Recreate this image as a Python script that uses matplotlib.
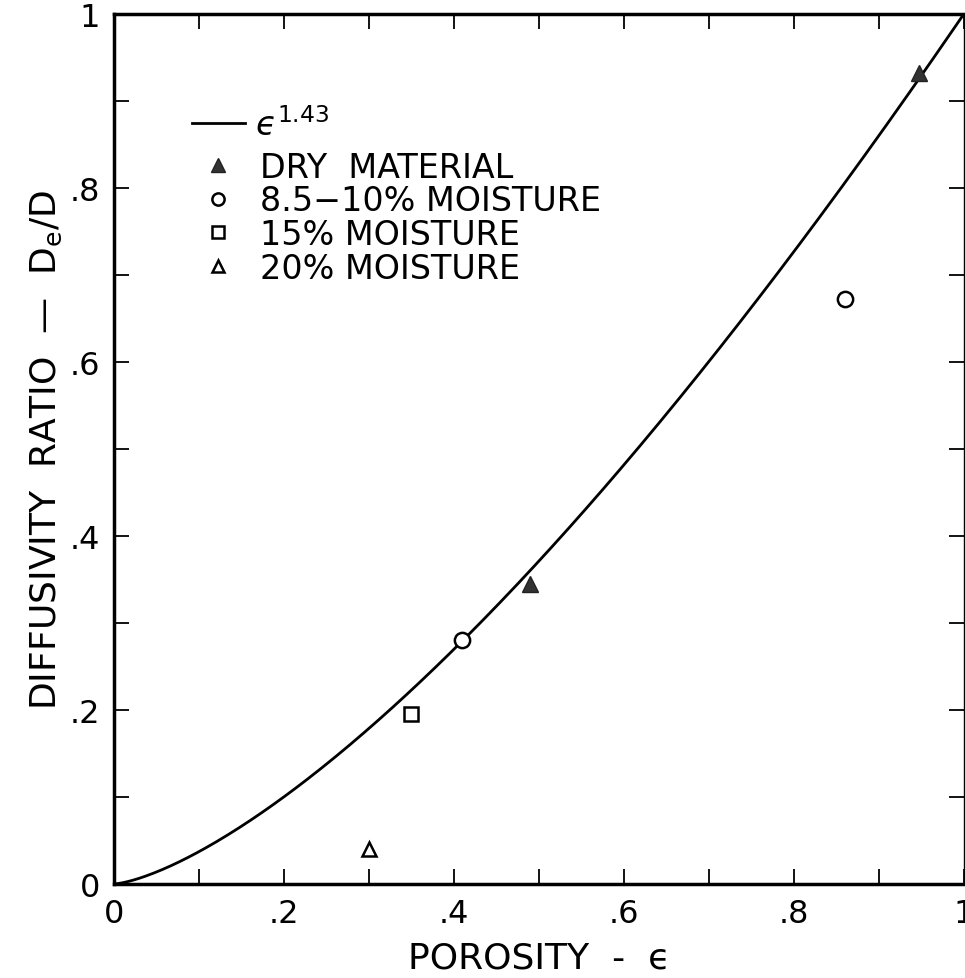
import numpy as np
import matplotlib
matplotlib.use("Agg")
import matplotlib.pyplot as plt
from matplotlib.ticker import MultipleLocator

# data
dry_x = [0.49, 0.947]
dry_y = [0.345, 0.932]
m10_x = [0.41, 0.86]
m10_y = [0.280, 0.672]
m15_x = [0.35]
m15_y = [0.195]
m20_x = [0.30]
m20_y = [0.040]
fit_exp = 1.43

xticks = [0, 0.2, 0.4, 0.6, 0.8, 1.0]
xticklabels = ["0", ".2", ".4", ".6", ".8", "1"]
yticks = [0, 0.2, 0.4, 0.6, 0.8, 1.0]
yticklabels = ["0", ".2", ".4", ".6", ".8", "1"]

plt.rcParams['font.family'] = ['DejaVu Sans']
plt.rcParams['mathtext.fontset'] = 'dejavusans'

fig = plt.figure(figsize=(9.65, 9.79), dpi=100)
ax = fig.add_axes([0.118, 0.096, 0.881, 0.889])

eps = np.linspace(0, 1, 300)
fit_line, = ax.plot(eps, eps ** fit_exp, color='black', lw=2.0)
h_dry, = ax.plot(dry_x, dry_y, ls='none', marker='^', ms=12, mfc='#333333', mec='#222222')
h_10, = ax.plot(m10_x, m10_y, ls='none', marker='o', ms=11, mfc='white', mec='black', mew=1.8)
h_15, = ax.plot(m15_x, m15_y, ls='none', marker='s', ms=10, mfc='white', mec='black', mew=1.8)
h_20, = ax.plot(m20_x, m20_y, ls='none', marker='^', ms=10, mfc='white', mec='black', mew=1.8)

ax.set_xlim(0, 1)
ax.set_ylim(0, 1)
ax.set_xticks(xticks)
ax.set_xticklabels(xticklabels)
ax.set_yticks(yticks)
ax.set_yticklabels(yticklabels)
ax.xaxis.set_minor_locator(MultipleLocator(0.1))
ax.yaxis.set_minor_locator(MultipleLocator(0.1))
ax.tick_params(which='both', direction='in', length=11, width=1.3, top=True, right=True,
               labelsize=23, pad=10)

for s in ['left', 'bottom', 'top']:
    ax.spines[s].set_linewidth(2.5)
ax.spines['right'].set_linewidth(1.0)

ax.set_xlabel("POROSITY  -  \u03f5", fontsize=26, labelpad=8)
ax.set_ylabel("DIFFUSIVITY  RATIO  \u2014  D$_\\mathrm{e}$/D", fontsize=26, labelpad=4)

leg1 = ax.legend([fit_line], ["$\u03f5^{1.43}$"], loc='center left',
                 bbox_to_anchor=(0.0915, 0.873), frameon=False, fontsize=24,
                 handlelength=1.6, handletextpad=0.3, borderpad=0, borderaxespad=0)
ax.add_artist(leg1)
ax.legend([h_dry, h_10, h_15, h_20],
          ["DRY  MATERIAL", "8.5\u221210% MOISTURE", "15% MOISTURE", "20% MOISTURE"],
          loc='center left', bbox_to_anchor=(0.0915, 0.7655), frameon=False,
          fontsize=24, handlelength=1.6, handletextpad=0.45, labelspacing=0.02,
          borderpad=0, borderaxespad=0, markerscale=0.8)

fig.savefig("out.png", dpi=100)
